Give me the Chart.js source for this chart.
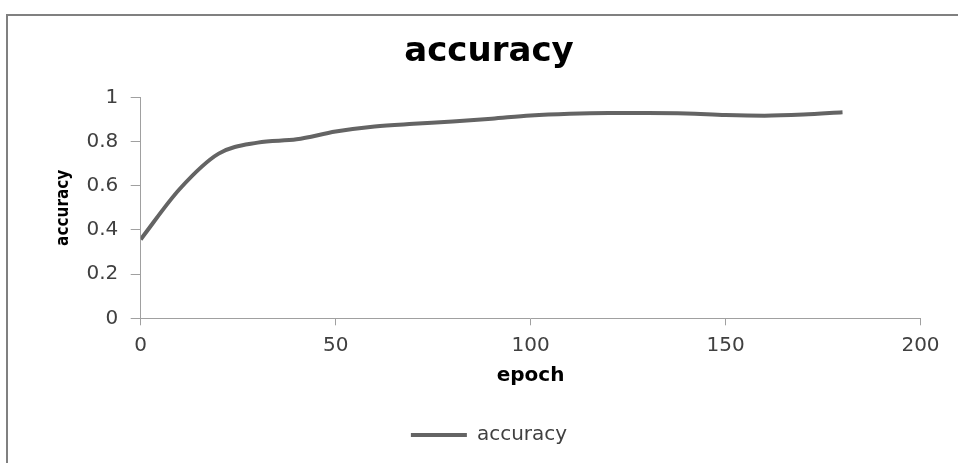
<!DOCTYPE html>
<html>
<head>
<meta charset="utf-8">
<script src="https://cdn.jsdelivr.net/npm/chart.js@4/dist/chart.umd.min.js"></script>
<style>
  html, body { margin: 0; padding: 0; background: #fff; }
  #wrap { width: 958px; height: 463px; position: relative; }
</style>
</head>
<body>
<div id="wrap"><canvas id="accChart"></canvas></div>
<script>
// values
const epochs   = [0, 10, 20, 30, 40, 50, 60, 70, 80, 90, 100, 110, 120, 130, 140, 150, 160, 170, 180];
const accuracy = [0.357, 0.585, 0.745, 0.795, 0.81, 0.845, 0.868, 0.88, 0.89, 0.903, 0.918, 0.926, 0.929, 0.929, 0.927, 0.92, 0.917, 0.922, 0.932];
const xTicks = [0, 50, 100, 150, 200];
const yTicks = [0, 0.2, 0.4, 0.6, 0.8, 1];

const puntos = epochs.map((e, i) => ({ x: e, y: accuracy[i] }));

// gray frame on left and top, like the cropped excel box
const marco = {
    id: 'marco',
    beforeDraw(chart) {
        const ctx = chart.ctx;
        ctx.save();
        ctx.fillStyle = '#ffffff';
        ctx.fillRect(0, 0, chart.width, chart.height);
        ctx.strokeStyle = '#808080';
        ctx.lineWidth = 2;
        ctx.beginPath();
        ctx.moveTo(7, chart.height);
        ctx.lineTo(7, 15);
        ctx.lineTo(chart.width, 15);
        ctx.stroke();
        ctx.restore();
    }
};

const ejeGris = '#a0a0a0';
const textoGris = '#404040';
const fuente = "'DejaVu Sans', sans-serif";

new Chart(document.querySelector('#accChart'), {
    type: 'line',
    data: {
        datasets: [{
            label: 'accuracy',
            data: puntos,
            borderColor: '#646464',
            backgroundColor: '#646464',
            borderWidth: 4,
            pointRadius: 0,
            pointStyle: 'line',
            cubicInterpolationMode: 'monotone',
            fill: false
        }]
    },
    options: {
        responsive: true,
        maintainAspectRatio: false,
        animation: false,
        devicePixelRatio: 1,
        layout: {
            padding: { left: 57.5, right: 37.5, top: 10, bottom: 8 }
        },
        plugins: {
            title: {
                display: true,
                text: 'accuracy',
                color: '#000',
                font: { family: fuente, size: 34, weight: 'bold', lineHeight: 1.2 },
                padding: { top: 22, bottom: 24.5 }
            },
            legend: {
                display: true,
                position: 'bottom',
                labels: {
                    usePointStyle: true,
                    pointStyleWidth: 56,
                    color: textoGris,
                    padding: 10,
                    font: { family: fuente, size: 20 }
                }
            },
            tooltip: { enabled: false }
        },
        scales: {
            x: {
                type: 'linear',
                min: 0,
                max: 200,
                afterBuildTicks: (scale) => { scale.ticks = xTicks.map(v => ({ value: v })); },
                afterFit: (scale) => { scale.height = 96.7; },
                border: { color: ejeGris, width: 1 },
                grid: { drawOnChartArea: false, drawTicks: true, tickLength: 7, color: ejeGris },
                ticks: {
                    color: textoGris,
                    padding: 8,
                    maxRotation: 0,
                    font: { family: fuente, size: 20 }
                },
                title: {
                    display: true,
                    text: 'epoch',
                    color: '#000',
                    font: { family: fuente, size: 20, weight: 'bold', lineHeight: 1.2 },
                    padding: { top: 0, bottom: 27 }
                }
            },
            y: {
                min: 0,
                max: 1,
                afterBuildTicks: (scale) => { scale.ticks = yTicks.map(v => ({ value: v })); },
                afterFit: (scale) => { scale.width = 83.2; },
                border: { color: ejeGris, width: 1 },
                grid: { drawOnChartArea: false, drawTicks: true, tickLength: 10, color: ejeGris },
                ticks: {
                    color: textoGris,
                    padding: 12.4,
                    font: { family: fuente, size: 20 },
                    callback: (v) => String(Number(v.toFixed(1)))
                },
                title: {
                    display: true,
                    text: 'accuracy',
                    color: '#000',
                    font: { family: "'DejaVu Sans Condensed', 'DejaVu Sans', sans-serif", size: 17, weight: 'bold', lineHeight: 1.2 },
                    padding: { top: -3.7, bottom: 0 }
                }
            }
        }
    },
    plugins: [marco]
});
</script>
</body>
</html>
